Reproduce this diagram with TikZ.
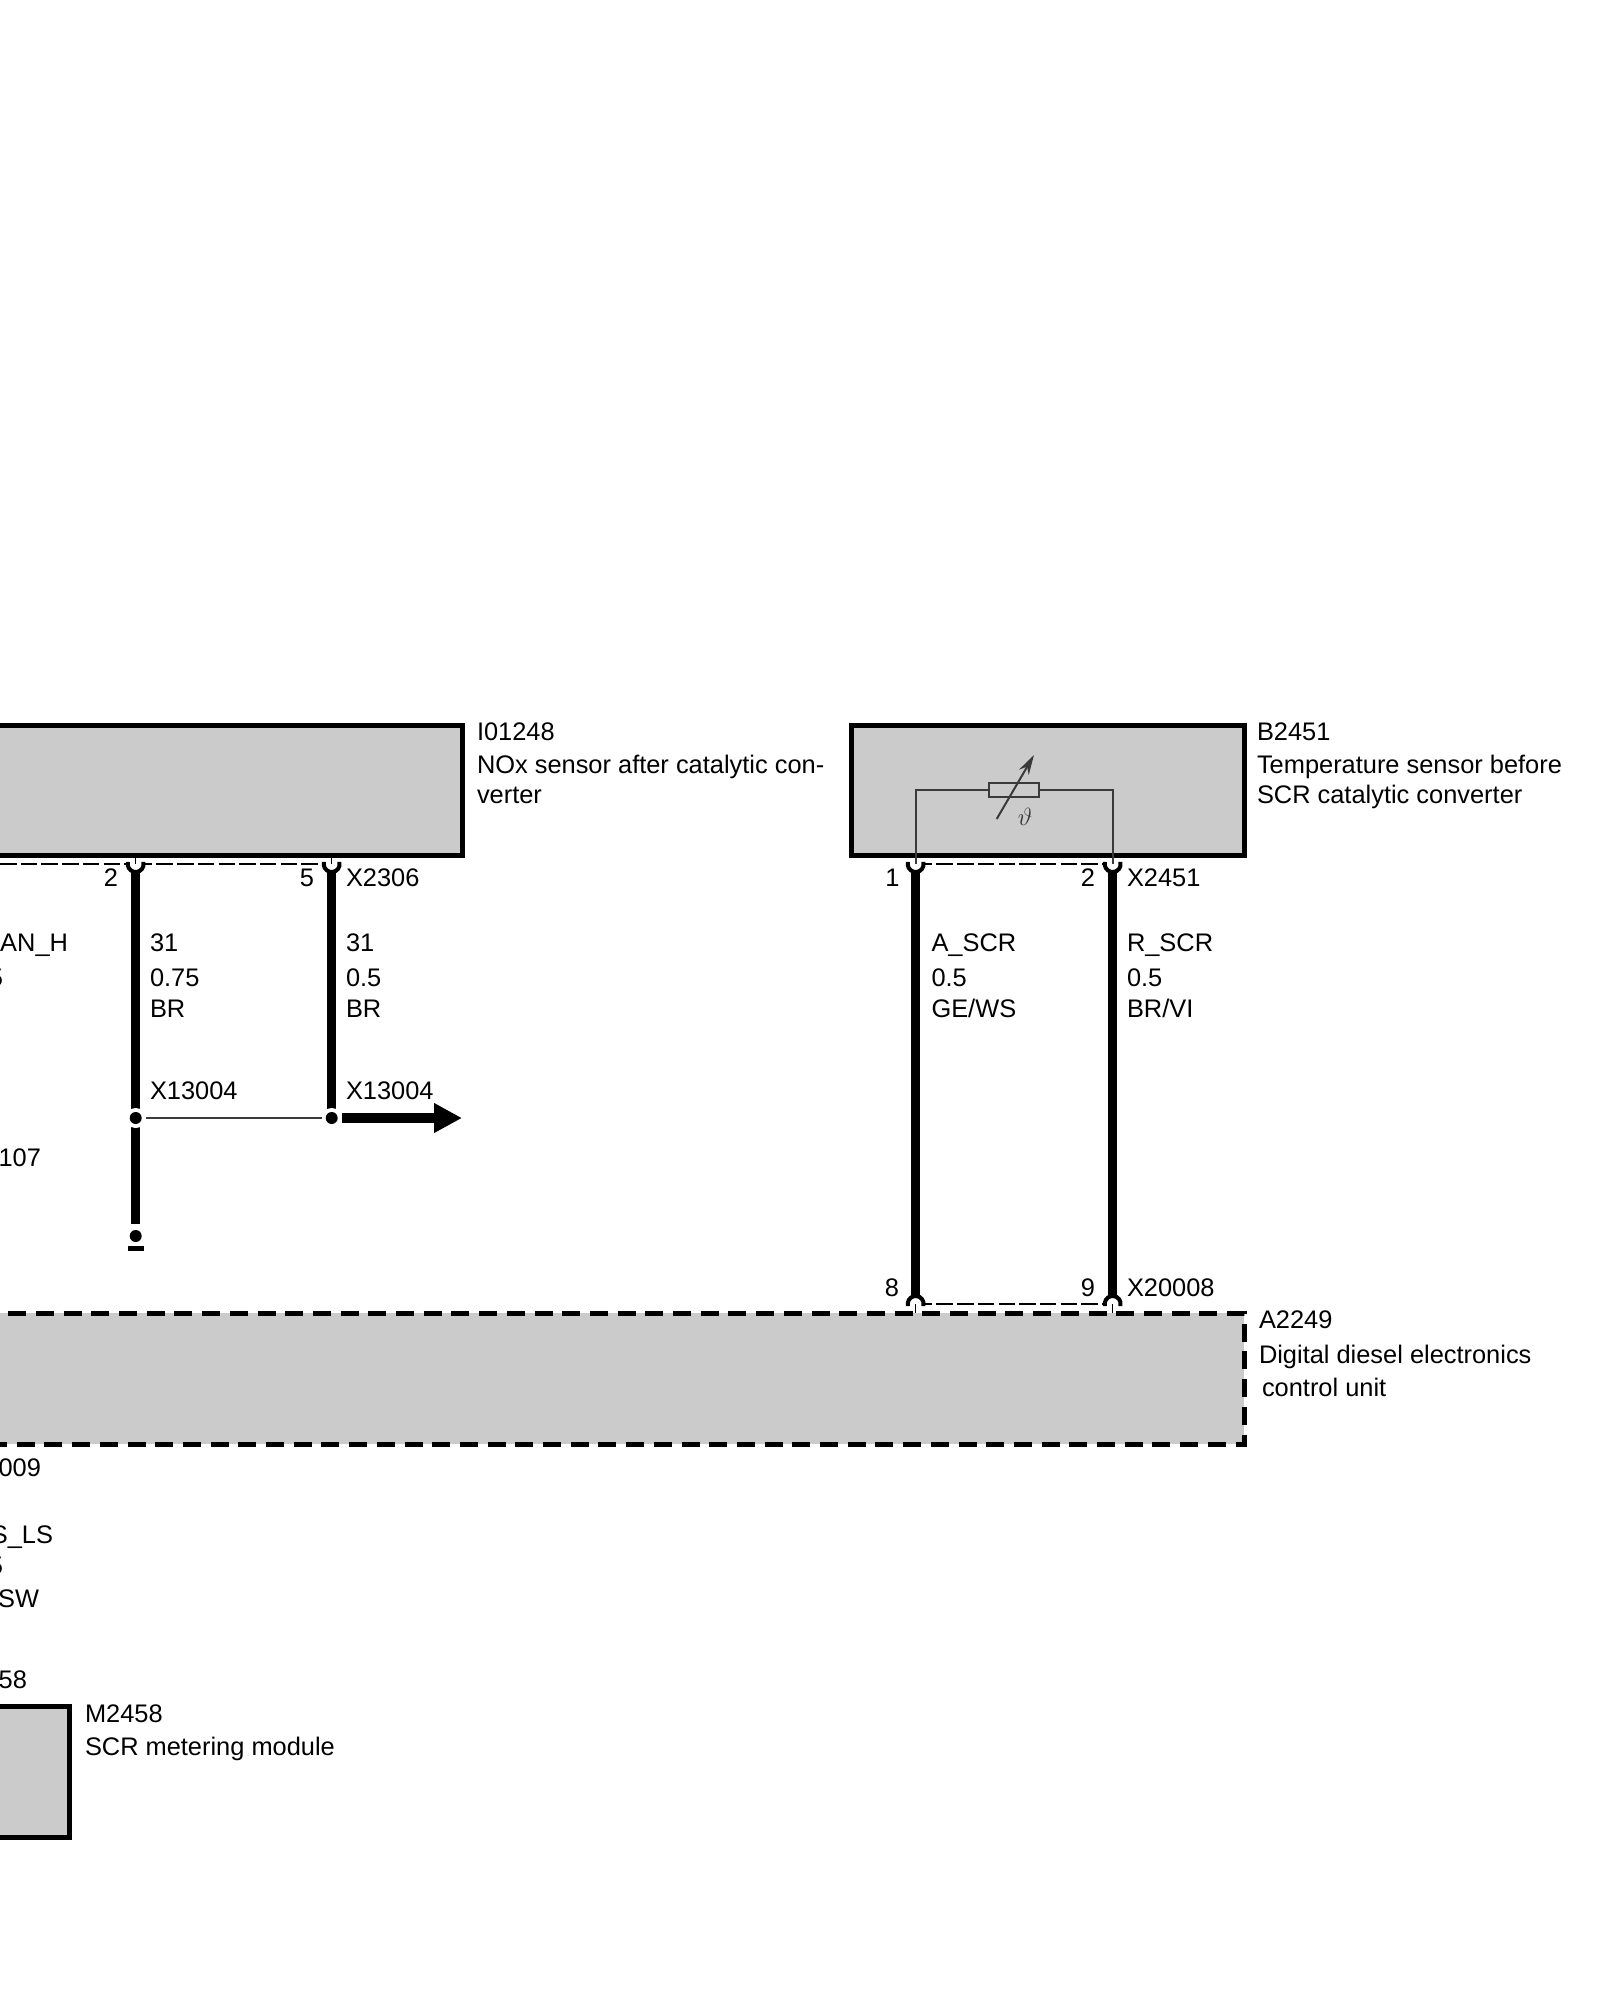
\documentclass[tikz,border=0pt]{standalone}
\usepackage{fontspec}
\setmainfont{Liberation Sans}
\usetikzlibrary{arrows.meta}
\definecolor{boxgray}{HTML}{CBCBCB}
\definecolor{thinline}{HTML}{3A3A3A}
\tikzset{
  lbl/.style={anchor=base west,inner sep=0pt,outer sep=0pt,font=\fontsize{25.4}{30}\selectfont},
  lblr/.style={anchor=base east,inner sep=0pt,outer sep=0pt,font=\fontsize{25.4}{30}\selectfont},
  solidline/.style={line width=5pt,draw=black,line join=miter},
  dashbox/.style={line width=5pt,draw=black,dash pattern=on 18pt off 9.7pt,dash phase=19.5pt},
  wire/.style={line width=9.5pt,draw=black},
  conn/.style={line width=2.2pt,draw=black,dash pattern=on 16.5pt off 4.2pt},
  pinarc/.style={line width=4pt,draw=black,fill=white},
  tick/.style={line width=1.5pt,draw=black},
  thin wire/.style={line width=2pt,draw=thinline},
  halo/.style={circle,fill=white,minimum size=20pt,inner sep=0pt},
  dot/.style={circle,fill=black,minimum size=12pt,inner sep=0pt}
}
\begin{document}
\begin{tikzpicture}[x=1pt,y=-1pt]
\useasboundingbox (0,0) rectangle (1600,2000);
\fill[white] (0,0) rectangle (1600,2000);

% ---- boxes
\fill[boxgray] (0,725) rectangle (462,855);
\path[solidline] (0,725) -- (462,725) -- (462,855) -- (0,855);
\node[solidline,fill=boxgray,anchor=north west,outer sep=0pt,minimum width=393pt,minimum height=130pt,inner sep=0pt] (b2451) at (851,725) {};
\fill[boxgray] (0,1313) rectangle (1244,1444);
\path[dashbox] (0,1313) -- (1244,1313) -- (1244,1444) -- (0,1444);
\fill[boxgray] (0,1706) rectangle (69,1837);
\path[solidline] (0,1706) -- (69,1706) -- (69,1837) -- (0,1837);

% ---- named points
\coordinate (p2) at (135.7,864);
\coordinate (p5) at (331.7,864);
\coordinate (p1) at (915.7,864);
\coordinate (pb2) at (1112.7,864);
\coordinate (q8) at (915.7,1304);
\coordinate (q9) at (1112.7,1304);
\coordinate (leftedge) at (0,864);

% ---- connector outline dashes
\draw[conn] (leftedge) -- (p2);
\draw[conn] (p2) -- (p5);
\draw[conn] (p1) -- (pb2);
\draw[conn] (q8) -- (q9);

% ---- resistor inside B2451
\node[draw=thinline,line width=2pt,fill=boxgray,minimum width=50pt,minimum height=14pt,inner sep=0pt] (res) at (1014,790) {};
\coordinate (c1) at (915.7,790);
\coordinate (c2) at (1112.7,790);
\coordinate (va) at (996.7,819);
\coordinate (vb) at (1034,755);
\draw[line width=2pt,draw=thinline,-{Stealth[length=20pt,width=11pt]}] (va) -- (vb);
\node[inner sep=0pt,text=thinline,font=\fontsize{27}{30}\selectfont] (theta) at (1025,817) {$\vartheta$};

% ---- wires
\coordinate (j2) at (135.7,1118);
\coordinate (j5) at (331.7,1118);
\coordinate (g) at (135.7,1236);
\coordinate (w2end) at (135.7,1224);
\draw[wire] (p2) -- (j2);
\draw[wire] (j2) -- (w2end);
\draw[wire] (p5) -- (j5);
\draw[wire] (p1) -- (q8);
\draw[wire] (pb2) -- (q9);

% ---- pins
\foreach \P in {p2,p5,p1,pb2}{
  \draw[pinarc] (\P) ++(195:8) arc[start angle=195,end angle=-15,radius=8];
}
\foreach \P in {q8,q9}{
  \draw[pinarc] (\P) ++(165:8) arc[start angle=165,end angle=375,radius=8];
}
\draw[tick] (135.7,855) -- (p2);
\draw[tick] (331.7,855) -- (p5);
\draw[tick] (915.7,1304) -- (915.7,1313);
\draw[tick] (1112.7,1304) -- (1112.7,1313);
\draw[thin wire] (res.west) -- (c1) -- (p1);
\draw[thin wire] (res.east) -- (c2) -- (pb2);

% ---- junctions
\node[halo] (h2) at (j2) {};
\node[halo] (h5) at (j5) {};
\node[dot] (d2) at (j2) {};
\node[dot] (d5) at (j5) {};
\draw[line width=2pt,draw=thinline] (h2) -- (h5);
\coordinate (a1) at (342,1118);
\coordinate (a2) at (462,1118);
\draw[line width=9.5pt,-{Triangle[length=28pt,width=28pt]}] (a1) -- (a2);

% ---- ground
\node[dot] (gd) at (g) {};
\fill (128,1246) rectangle (144,1250.5);

% ---- labels: top left
\node[lbl] (t1) at (477,740) {I01248};
\node[lbl] (t2) at (477,773) {NOx sensor after catalytic con-};
\node[lbl] (t3) at (477,803) {verter};
\node[lblr] (n2) at (118,886) {2};
\node[lblr] (n5) at (314,886) {5};
\node[lbl] (x2306) at (346,886) {X2306};
\node[lblr] (canh) at (68,951) {AN\_H};
\node[lblr] (frag1) at (3,986) {5};
\node[lblr] (f107) at (41,1166) {107};
\node[lbl] (a1t) at (150,951) {31};
\node[lbl] (a2t) at (150,986) {0.75};
\node[lbl] (a3t) at (150,1017) {BR};
\node[lbl] (b1t) at (346,951) {31};
\node[lbl] (b2t) at (346,986) {0.5};
\node[lbl] (b3t) at (346,1017) {BR};
\node[lbl] (xa) at (150,1099) {X13004};
\node[lbl] (xb) at (346,1099) {X13004};

% ---- labels: right
\node[lbl] (u1) at (1257,740) {B2451};
\node[lbl] (u2) at (1257,773) {Temperature sensor before};
\node[lbl] (u3) at (1257,803) {SCR catalytic converter};
\node[lblr] (n1) at (899.5,886) {1};
\node[lblr] (nn2) at (1095,886) {2};
\node[lbl] (x2451) at (1127,886) {X2451};
\node[lbl] (w1) at (931.5,951) {A\_SCR};
\node[lbl] (w2) at (931.5,986) {0.5};
\node[lbl] (w3) at (931.5,1017) {GE/WS};
\node[lbl] (v1) at (1127,951) {R\_SCR};
\node[lbl] (v2) at (1127,986) {0.5};
\node[lbl] (v3) at (1127,1017) {BR/VI};
\node[lblr] (n8) at (899,1296) {8};
\node[lblr] (n9) at (1095,1296) {9};
\node[lbl] (x20008) at (1127,1296) {X20008};
\node[lbl] (k1) at (1259,1328) {A2249};
\node[lbl] (k2) at (1259,1363) {Digital diesel electronics};
\node[lbl] (k3) at (1262,1396) {control unit};

% ---- labels: bottom left
\node[lblr] (s1) at (41,1476) {009};
\node[lblr] (s2) at (53,1543) {S\_LS};
\node[lblr] (s3) at (3,1574) {5};
\node[lblr] (s4) at (39,1607) {SW};
\node[lblr] (s5) at (27,1688) {58};
\node[lbl] (m1) at (85,1722) {M2458};
\node[lbl] (m2) at (85,1755) {SCR metering module};
\end{tikzpicture}
\end{document}
